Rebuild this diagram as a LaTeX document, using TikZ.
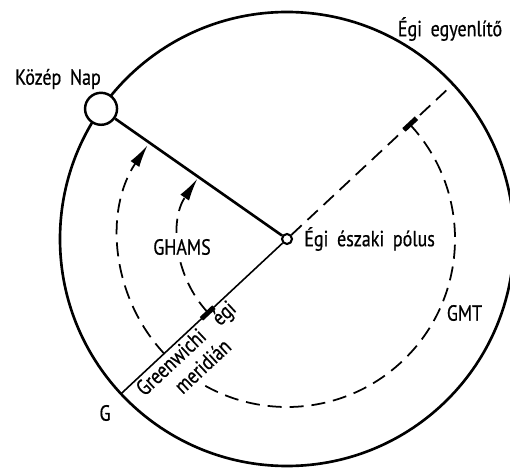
\documentclass[tikz,border=0pt]{standalone}
\usepackage{fontspec}
\setmainfont{PT Sans}[FakeStretch=0.82,WordSpace=1.8,FakeBold=0.6]
\usetikzlibrary{arrows.meta, positioning}

\begin{document}
\begin{tikzpicture}[
    font=\fontsize{12.5}{13}\selectfont,
    rim/.style={line width=1.5pt},
    sunline/.style={line width=1.5pt},
    merid/.style={line width=0.9pt},
    dline/.style={line width=1pt,dash pattern=on 8pt off 4.5pt},
    arr/.style={dline,-{Latex[length=13pt,width=6pt]}},
    tick/.style={line width=2.8pt},
    lbl/.style={fill=white,inner sep=1.5pt}
]
  \useasboundingbox (-5.74,-4.58) rectangle (4.46,4.78);

  % Celestial equator
  \draw[rim] (0,0) circle[radius=4.54];

  % Pole and mean sun
  \node[circle,draw,line width=1.2pt,fill=white,minimum size=0.2cm,inner sep=0pt] (pole) at (0,0) {};
  \coordinate (gpt) at (223:4.54);
  \coordinate (eqend) at (43:4.54);
  \node[circle,draw,line width=1.4pt,fill=white,minimum size=0.64cm,inner sep=0pt] (sun) at (145:4.54) {};

  % Hour angles
  \draw[arr] (223:2.16) arc[start angle=223,end angle=146,radius=2.16];
  \draw[arr] (43:3.36) arc[start angle=43,end angle=-214,radius=3.36];

  % Labels
  \node (equator) at (3.26,4.2) {Égi egyenlítő};
  \node (sunlbl) at (-4.58,3.2) {Közép Nap};
  \node[right=0.1cm of pole] (polelbl) {Égi északi pólus};
  \node[lbl] (ghams) at (-2.10,-0.16) {GHAMS};
  \node (gmt) at (3.55,-1.48) {GMT};
  \node (glbl) at (-3.64,-3.48) {G};
  \node[lbl,rotate=43,align=center] (gmlbl) at (-1.86,-2.36) {Greenwichi~~égi\\[1pt]meridián};

  % Meridians
  \draw[sunline] (sun) -- (pole);
  \draw[merid] (pole) -- (gpt);
  \draw[dline] (pole) -- (eqend);
  \draw[tick] (223:2.0) -- (223:2.34);
  \draw[tick] (43:3.2) -- (43:3.54);
\end{tikzpicture}
\end{document}
